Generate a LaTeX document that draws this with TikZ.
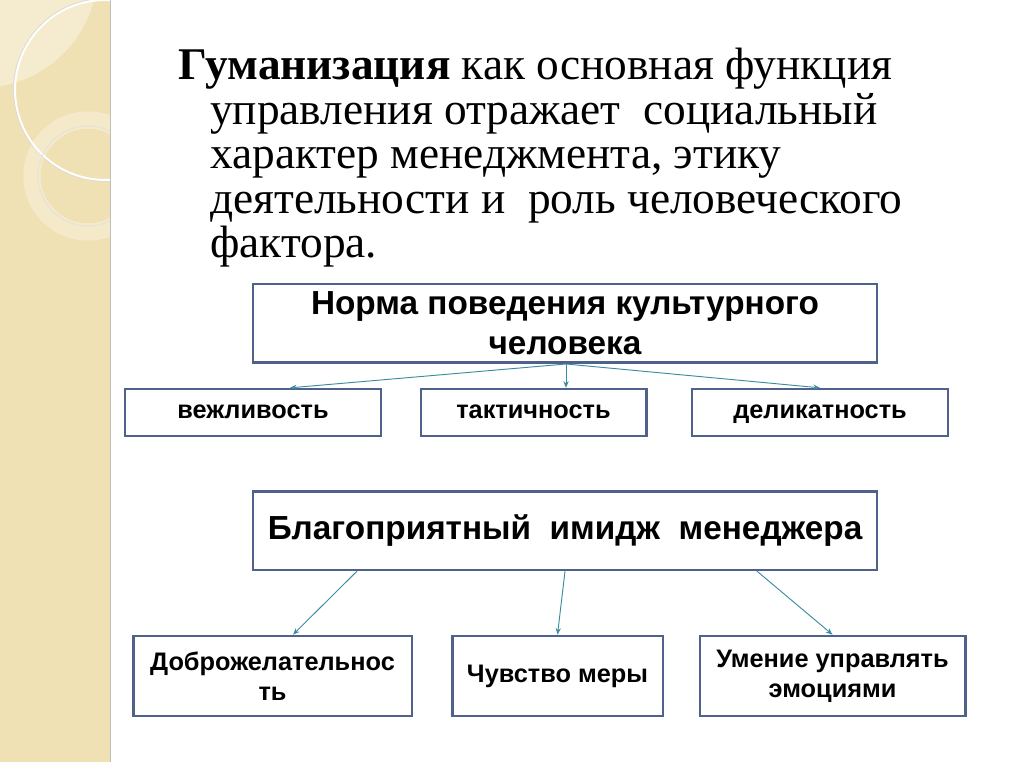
\documentclass[tikz,border=0pt]{standalone}
\usepackage{fontspec}
\usetikzlibrary{arrows.meta}
\setmainfont{Liberation Serif}
\newfontfamily\boxfont{Liberation Sans}
\definecolor{strip}{RGB}{240,225,180}
\definecolor{bord}{RGB}{80,98,140}
\definecolor{arr}{RGB}{60,140,160}
\begin{document}
\begin{tikzpicture}[x=0.75pt,y=-0.75pt,
  bx/.style={draw=bord,line width=2pt,fill=white,align=center,font=\boxfont\bfseries,inner sep=0pt},
  sm/.style={font=\boxfont\bfseries\fontsize{19}{22.5}\selectfont},
  ar/.style={draw=arr,line width=0.7pt,-{Stealth[length=5pt,width=4pt,open]}}]
\useasboundingbox (0,0) rectangle (1016,762);
\fill[white] (0,0) rectangle (1016,762);
\fill[strip] (0,0) rectangle (110,762);
\begin{scope}
\clip (0,0) rectangle (110,762);
\fill[white,opacity=0.35] (-20,-30) circle (118);
\draw[white,line width=1.5pt] (105,90) circle (90);
\draw[black!15,line width=0.5pt] (105,90) circle (91.5);
\draw[white,opacity=0.3,line width=13pt] (88,176) circle (56);
\draw[black!12,line width=0.6pt] (88,176) circle (50);
\end{scope}
\draw[black!25] (110,0) -- (110,762);
\node[anchor=north west,align=left,font=\fontsize{34}{33.4}\selectfont,inner sep=0pt] (t) at (178,48)
 {\textbf{Гуманизация} как основная функция\\
 \hspace*{24pt}управления отражает\ \ социальный\\
 \hspace*{24pt}характер менеджмента, этику\\
 \hspace*{24pt}деятельности и\ \ роль человеческого\\
 \hspace*{24pt}фактора.};
\node[bx,minimum width=468pt,minimum height=59pt,font=\boxfont\bfseries\fontsize{25}{30}\selectfont] (n) at (565,323.5) {Норма поведения культурного\\человека};
\node[bx,sm,minimum width=192pt,minimum height=35pt] (a1) at (253,412.5) {\strut вежливость};
\node[bx,sm,minimum width=169pt,minimum height=35pt] (a2) at (533.5,412.5) {\strut тактичность};
\node[bx,sm,minimum width=192pt,minimum height=35pt] (a3) at (820,412.5) {\strut деликатность};
\node[bx,minimum width=468pt,minimum height=59pt,font=\boxfont\bfseries\fontsize{25}{30}\selectfont] (b) at (565,530.5) {Благоприятный\ \ имидж\ \ менеджера};
\node[bx,sm,minimum width=209pt,minimum height=60pt] (c1) at (272.5,676) {Доброжелательнос\\ть};
\node[bx,sm,minimum width=158pt,minimum height=60pt] (c2) at (557.5,676) {Чувство меры};
\node[bx,sm,minimum width=199pt,minimum height=60pt] (c3) at (832.5,676) {Умение управлять\\эмоциями};
\coordinate (ns) at (566,364);
\draw[ar] (ns) -- (a1.north -| 290,0);
\draw[ar] (ns) -- (a2.north -| 566,0);
\draw[ar] (ns) -- (a3.north);
\draw[ar] (b.south -| 357,0) -- (c1.north -| 293,0);
\draw[ar] (b.south) -- (c2.north);
\draw[ar] (b.south -| 757,0) -- (c3.north);
\end{tikzpicture}
\end{document}
